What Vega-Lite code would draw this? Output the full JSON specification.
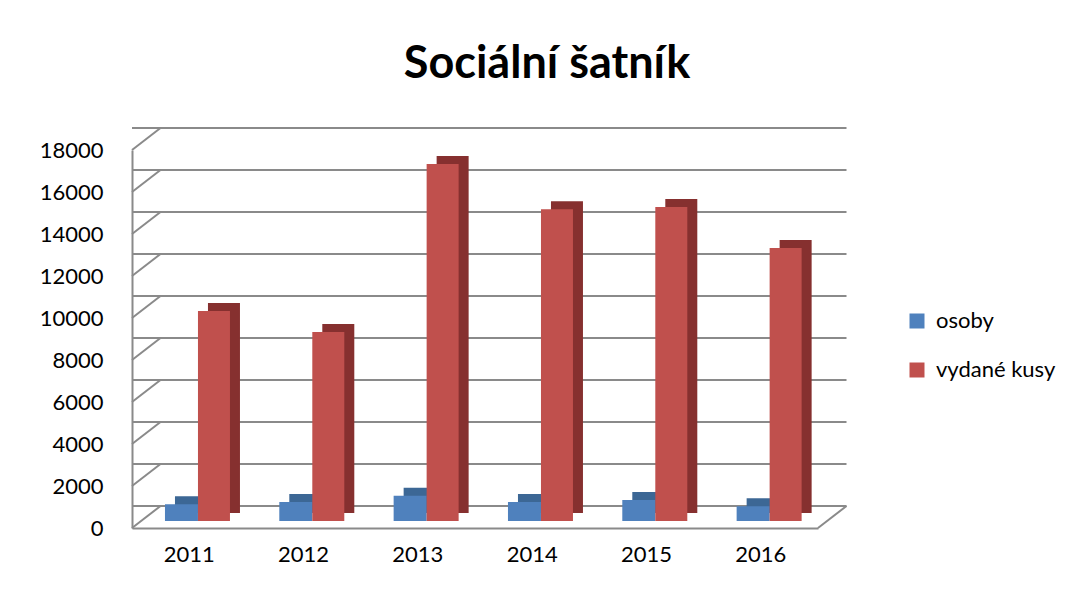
{
  "$schema": "https://vega.github.io/schema/vega-lite/v6.json",
  "autosize": "none",
  "padding": {"left": 132, "top": 150, "right": 263, "bottom": 63},
  "width": 686,
  "height": 378,
  "background": "white",
  "config": {"view": {"stroke": null}, "font": "Lato"},
  "title": {
    "text": "Sociální šatník",
    "font": "Lato",
    "fontSize": 45,
    "fontWeight": "bold",
    "color": "#000000",
    "anchor": "middle",
    "dx": 72,
    "offset": 40
  },
  "datasets": {
    "bars": [
      {"rok": "2011", "serie": "osoby", "hodnota": 800},
      {"rok": "2011", "serie": "vydané kusy", "hodnota": 10000},
      {"rok": "2012", "serie": "osoby", "hodnota": 900},
      {"rok": "2012", "serie": "vydané kusy", "hodnota": 9000},
      {"rok": "2013", "serie": "osoby", "hodnota": 1200},
      {"rok": "2013", "serie": "vydané kusy", "hodnota": 17000},
      {"rok": "2014", "serie": "osoby", "hodnota": 900},
      {"rok": "2014", "serie": "vydané kusy", "hodnota": 14850},
      {"rok": "2015", "serie": "osoby", "hodnota": 1000},
      {"rok": "2015", "serie": "vydané kusy", "hodnota": 14950},
      {"rok": "2016", "serie": "osoby", "hodnota": 700},
      {"rok": "2016", "serie": "vydané kusy", "hodnota": 13000}
    ],
    "grid": [
      {"v": 0}, {"v": 2000}, {"v": 4000}, {"v": 6000}, {"v": 8000},
      {"v": 10000}, {"v": 12000}, {"v": 14000}, {"v": 16000}, {"v": 18000}
    ]
  },
  "layer": [
    {
      "data": {"name": "grid"},
      "mark": {"type": "rule", "color": "#8a8a8a", "strokeWidth": 2, "xOffset": 28.5, "yOffset": -22},
      "encoding": {
        "y": {"field": "v", "type": "quantitative", "scale": {"domain": [0, 18000]}}
      }
    },
    {
      "data": {"name": "grid"},
      "mark": {"type": "rule", "color": "#8a8a8a", "strokeWidth": 2, "y2Offset": -22},
      "encoding": {
        "x": {"value": 0},
        "x2": {"value": 28.5},
        "y": {"field": "v", "type": "quantitative"},
        "y2": {"field": "v"}
      }
    },
    {
      "data": {"name": "grid"},
      "transform": [{"filter": "datum.v == 0"}],
      "mark": {"type": "rule", "color": "#8a8a8a", "strokeWidth": 2, "y2Offset": -22},
      "encoding": {
        "x": {"value": 686},
        "x2": {"value": 714.5},
        "y": {"field": "v", "type": "quantitative"},
        "y2": {"field": "v"}
      }
    },
    {
      "data": {"name": "bars"},
      "transform": [{"filter": "datum.serie == 'osoby'"}],
      "mark": {"type": "bar", "width": 33, "color": "#3C6795", "xOffset": 2.3, "yOffset": -15, "y2Offset": -15},
      "encoding": {
        "x": {"field": "rok", "type": "nominal", "scale": {"paddingInner": 0.42, "paddingOuter": 0.21}},
        "y": {"field": "hodnota", "type": "quantitative"}
      }
    },
    {
      "data": {"name": "bars"},
      "transform": [{"filter": "datum.serie == 'osoby'"}],
      "mark": {"type": "bar", "width": 33, "xOffset": -7.7, "yOffset": -7, "y2Offset": -7},
      "encoding": {
        "x": {"field": "rok", "type": "nominal"},
        "y": {"field": "hodnota", "type": "quantitative"},
        "color": {
          "field": "serie",
          "type": "nominal",
          "scale": {"domain": ["osoby", "vydané kusy"], "range": ["#4F81BD", "#C0504D"]},
          "legend": {
            "title": null,
            "orient": "none",
            "legendX": 774,
            "legendY": 160,
            "padding": 0,
            "symbolType": "square",
            "symbolSize": 225,
            "symbolStrokeWidth": 0,
            "labelFontSize": 22,
            "labelFont": "Lato",
            "labelColor": "#000000",
            "labelOffset": 8,
            "rowPadding": 27
          }
        }
      }
    },
    {
      "data": {"name": "bars"},
      "transform": [{"filter": "datum.serie == 'vydané kusy'"}],
      "mark": {"type": "bar", "width": 32, "color": "#86302F", "xOffset": 34.8, "yOffset": -15, "y2Offset": -15},
      "encoding": {
        "x": {"field": "rok", "type": "nominal"},
        "y": {"field": "hodnota", "type": "quantitative"}
      }
    },
    {
      "data": {"name": "bars"},
      "transform": [{"filter": "datum.serie == 'vydané kusy'"}],
      "mark": {"type": "bar", "width": 32, "xOffset": 24.8, "yOffset": -7, "y2Offset": -7},
      "encoding": {
        "x": {
          "field": "rok",
          "type": "nominal",
          "axis": {
            "title": null,
            "labelAngle": 0,
            "labelAlign": "center",
            "labelFontSize": 22,
            "labelFont": "Lato",
            "labelColor": "#000000",
            "ticks": false,
            "tickSize": 0,
            "labelPadding": 26,
            "domainColor": "#8a8a8a",
            "domainWidth": 2
          }
        },
        "y": {
          "field": "hodnota",
          "type": "quantitative",
          "scale": {"domain": [0, 18000]},
          "axis": {
            "title": null,
            "values": [0, 2000, 4000, 6000, 8000, 10000, 12000, 14000, 16000, 18000],
            "format": "d",
            "grid": false,
            "ticks": false,
            "tickSize": 0,
            "labelPadding": 29,
            "labelFontSize": 22,
            "labelFont": "Lato",
            "labelColor": "#000000",
            "domainColor": "#8a8a8a",
            "domainWidth": 2
          }
        },
        "color": {
          "field": "serie",
          "type": "nominal",
          "scale": {"domain": ["osoby", "vydané kusy"], "range": ["#4F81BD", "#C0504D"]},
          "legend": null
        }
      }
    }
  ]
}
